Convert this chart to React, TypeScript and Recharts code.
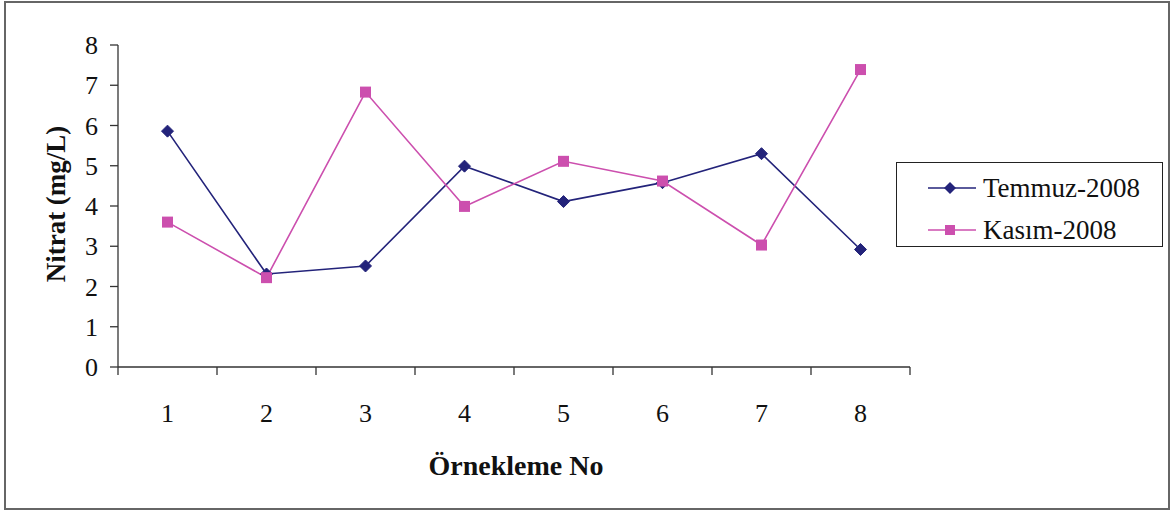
import React from "react";
import { LineChart, Line, XAxis, YAxis, Label } from "recharts";

const samples = [1, 2, 3, 4, 5, 6, 7, 8];
const temmuz2008 = [5.86, 2.31, 2.51, 4.99, 4.11, 4.58, 5.3, 2.92];
const kasim2008 = [3.6, 2.22, 6.83, 3.99, 5.11, 4.62, 3.03, 7.39];
const yTicks = [0, 1, 2, 3, 4, 5, 6, 7, 8];
// tick marks sit between samples, labels under each sample
const xTicks = [0.5, 1, 1.5, 2, 2.5, 3, 3.5, 4, 4.5, 5, 5.5, 6, 6.5, 7, 7.5, 8, 8.5];
const seriesNames = ["Temmuz-2008", "Kasım-2008"];

const NAVY = "#23237a";
const PINK = "#cc4fae";
const FONT = "'Liberation Serif', 'Times New Roman', Times, serif";

const data = samples.map((s, i) => ({
  no: s,
  temmuz: temmuz2008[i],
  kasim: kasim2008[i],
}));

const diamond = (props: any) => {
  const { cx, cy, index } = props;
  const r = 6;
  return (
    <path
      key={`dm-${index}`}
      d={`M${cx},${cy - r}L${cx + r},${cy}L${cx},${cy + r}L${cx - r},${cy}Z`}
      fill={NAVY}
      stroke={NAVY}
    />
  );
};

const square = (props: any) => {
  const { cx, cy, index } = props;
  const s = 11;
  return <rect key={`sq-${index}`} x={cx - s / 2} y={cy - s / 2} width={s} height={s} fill={PINK} />;
};

const XTick = (props: any) => {
  const { x, y, payload } = props;
  const v = payload.value;
  if (!Number.isInteger(v)) {
    return <line x1={x} y1={y} x2={x} y2={y + 8} stroke="#333" strokeWidth={1.3} />;
  }
  return (
    <text x={x} y={y + 55} textAnchor="middle" fontSize={26} fontFamily={FONT} fill="#111">
      {v}
    </text>
  );
};

const LegendBox = () => (
  <div
    style={{
      position: "absolute",
      left: 896,
      top: 162,
      width: 265,
      height: 83,
      border: "1.5px solid #222",
      background: "#fff",
      fontFamily: FONT,
      fontSize: 27,
      color: "#111",
    }}
  >
    {[
      { name: seriesNames[0], color: NAVY, shape: "d", top: 25 },
      { name: seriesNames[1], color: PINK, shape: "s", top: 67 },
    ].map((it) => (
      <div
        key={it.name}
        style={{ position: "absolute", left: 0, top: it.top - 16, height: 32, display: "flex", alignItems: "center" }}
      >
        <svg width={86} height={32}>
          <line x1={31} y1={16} x2={79} y2={16} stroke={it.color} strokeWidth={1.5} />
          {it.shape === "d" ? (
            <path d="M53,10L59,16L53,22L47,16Z" fill={it.color} />
          ) : (
            <rect x={48} y={11} width={10} height={10} fill={it.color} />
          )}
        </svg>
        <span style={{ lineHeight: "32px", whiteSpace: "nowrap" }}>{it.name}</span>
      </div>
    ))}
  </div>
);

export default function App() {
  return (
    <div style={{ position: "absolute", left: 0, top: 0, width: 1175, height: 510, background: "#fff" }}>
      <div
        style={{
          position: "absolute",
          left: 4,
          top: 1,
          width: 1162,
          height: 505,
          border: "2px solid #666",
        }}
      />
      <LineChart
        width={1175}
        height={510}
        data={data}
        margin={{ top: 45, right: 265, bottom: 0, left: 0 }}
        style={{ position: "absolute", left: 0, top: 0 }}
      >
        <XAxis
          dataKey="no"
          type="number"
          domain={[0.5, 8.5]}
          ticks={xTicks}
          interval={0}
          height={143}
          tickLine={false}
          tickSize={0}
          tickMargin={0}
          tick={<XTick />}
          axisLine={{ stroke: "#333", strokeWidth: 1.3 }}
        >
          <Label
            content={() => (
              <text
                x={516}
                y={475}
                textAnchor="middle"
                fontSize={28}
                fontWeight="bold"
                fontFamily={FONT}
                fill="#111"
              >
                Örnekleme No
              </text>
            )}
          />
        </XAxis>
        <YAxis
          type="number"
          domain={[0, 8]}
          ticks={yTicks}
          interval={0}
          width={118}
          tickSize={8}
          tickMargin={12}
          tick={{ fill: "#111", fontSize: 26, fontFamily: FONT }}
          tickLine={{ stroke: "#333", strokeWidth: 1.3 }}
          axisLine={{ stroke: "#333", strokeWidth: 1.3 }}
        >
          <Label
            content={() => (
              <text
                x={56}
                y={204}
                textAnchor="middle"
                dominantBaseline="central"
                fontSize={27}
                fontWeight="bold"
                fontFamily={FONT}
                fill="#111"
                transform="rotate(-90 56 204)"
              >
                Nitrat (mg/L)
              </text>
            )}
          />
        </YAxis>
        <Line
          dataKey="temmuz"
          name={seriesNames[0]}
          stroke={NAVY}
          strokeWidth={1.6}
          dot={diamond}
          activeDot={false}
          isAnimationActive={false}
        />
        <Line
          dataKey="kasim"
          name={seriesNames[1]}
          stroke={PINK}
          strokeWidth={1.6}
          dot={square}
          activeDot={false}
          isAnimationActive={false}
        />
      </LineChart>
      <LegendBox />
    </div>
  );
}
